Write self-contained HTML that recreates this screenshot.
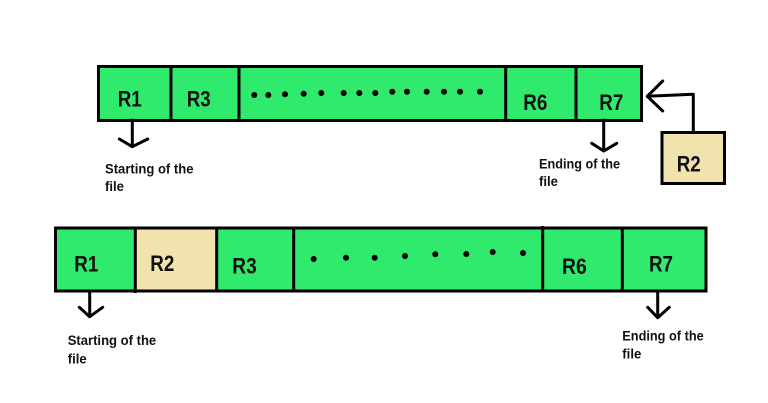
<!DOCTYPE html>
<html>
<head>
<meta charset="utf-8">
<style>
html,body{margin:0;padding:0;background:#fff;width:768px;height:403px;overflow:hidden}
svg{display:block}
text{font-family:"Liberation Sans",sans-serif;font-weight:bold;fill:#111}
.r{font-size:22px}
.s{font-size:14px}
.l{fill:none;stroke:#000;stroke-width:3;stroke-linecap:round;stroke-linejoin:round}
.b{stroke:#000;stroke-width:3}
</style>
</head>
<body>
<svg width="768" height="403" viewBox="0 0 768 403" xmlns="http://www.w3.org/2000/svg">
<rect width="768" height="403" fill="#fff"/>

<!-- Top bar -->
<rect class="b" x="98.5" y="66.5" width="543" height="54" fill="#2fea6d"/>
<path class="b" d="M171 66V121M239 65V121M505.7 65V121M576 66V121" fill="none"/>
<g fill="#000">
<circle cx="254.3" cy="95" r="3"/><circle cx="268.3" cy="95" r="3"/><circle cx="285" cy="94.3" r="3"/>
<circle cx="303.7" cy="93.7" r="3"/><circle cx="321.3" cy="93" r="3"/><circle cx="343.7" cy="93" r="3"/>
<circle cx="359.3" cy="93" r="3"/><circle cx="375.3" cy="93" r="3"/><circle cx="392.3" cy="91.7" r="3"/>
<circle cx="407" cy="91.7" r="3"/><circle cx="426.7" cy="91.7" r="3"/><circle cx="444" cy="91.7" r="3"/>
<circle cx="460" cy="91.7" r="3"/><circle cx="480" cy="91.7" r="3"/>
</g>
<text class="r" x="117.7" y="106.7" textLength="24" lengthAdjust="spacingAndGlyphs">R1</text>
<text class="r" x="186.7" y="106.7" textLength="24" lengthAdjust="spacingAndGlyphs">R3</text>
<text class="r" x="523.3" y="110" textLength="24" lengthAdjust="spacingAndGlyphs">R6</text>
<text class="r" x="599.3" y="110" textLength="24" lengthAdjust="spacingAndGlyphs">R7</text>

<!-- Top arrows -->
<path class="l" d="M132.3 120V146.7M119.3 139L132.3 146.7L147.7 139"/>
<path class="l" d="M603.7 120V151M591.7 143.3L603.7 151L616.7 143.3"/>
<text class="s" x="105" y="173.3" textLength="88.5" lengthAdjust="spacingAndGlyphs">Starting of the</text>
<text class="s" x="105" y="191" textLength="19" lengthAdjust="spacingAndGlyphs">file</text>
<text class="s" x="539" y="168.3" textLength="81" lengthAdjust="spacingAndGlyphs">Ending of the</text>
<text class="s" x="539" y="186" textLength="19" lengthAdjust="spacingAndGlyphs">file</text>

<!-- Floating R2 -->
<rect class="b" x="662" y="132.5" width="62.5" height="51" fill="#f0e3ae"/>
<path class="l" d="M693.3 132V94.3L647.3 96.3M662.7 81L647.3 96.3L662.7 111"/>
<text class="r" x="676.7" y="171.7" textLength="24" lengthAdjust="spacingAndGlyphs">R2</text>

<!-- Bottom bar -->
<rect class="b" x="55.5" y="228" width="650.5" height="63" fill="#2fea6d"/>
<rect x="136" y="229.5" width="80" height="60" fill="#f0e3ae"/>
<path class="b" d="M135.3 228V293M216.7 228V292M293.7 228V292M542.7 226V292M622.3 228V292" fill="none"/>
<g fill="#000">
<circle cx="313.7" cy="259" r="3"/><circle cx="346" cy="257.7" r="3"/><circle cx="374.7" cy="257.7" r="3"/>
<circle cx="405" cy="256" r="3"/><circle cx="435.3" cy="254.3" r="3"/><circle cx="466.3" cy="254" r="3"/>
<circle cx="492.7" cy="252" r="3"/><circle cx="523" cy="253" r="3"/>
</g>
<text class="r" x="74.3" y="271.7" textLength="24" lengthAdjust="spacingAndGlyphs">R1</text>
<text class="r" x="150.3" y="271" textLength="24" lengthAdjust="spacingAndGlyphs">R2</text>
<text class="r" x="232.3" y="273.3" textLength="24.4" lengthAdjust="spacingAndGlyphs">R3</text>
<text class="r" x="562" y="274" textLength="24.7" lengthAdjust="spacingAndGlyphs">R6</text>
<text class="r" x="649" y="271.7" textLength="24" lengthAdjust="spacingAndGlyphs">R7</text>

<!-- Bottom arrows -->
<path class="l" d="M89.7 291V316.7M79.3 307.3L89.7 316.7L102.7 307.3"/>
<path class="l" d="M657.7 291V317.7M647.7 307.3L657.7 317.7L669.3 307.3"/>
<text class="s" x="67.7" y="345" textLength="88.5" lengthAdjust="spacingAndGlyphs">Starting of the</text>
<text class="s" x="67.7" y="363.3" textLength="19" lengthAdjust="spacingAndGlyphs">file</text>
<text class="s" x="622.3" y="340.3" textLength="81.4" lengthAdjust="spacingAndGlyphs">Ending of the</text>
<text class="s" x="622.3" y="358.3" textLength="19" lengthAdjust="spacingAndGlyphs">file</text>
</svg>
</body>
</html>
